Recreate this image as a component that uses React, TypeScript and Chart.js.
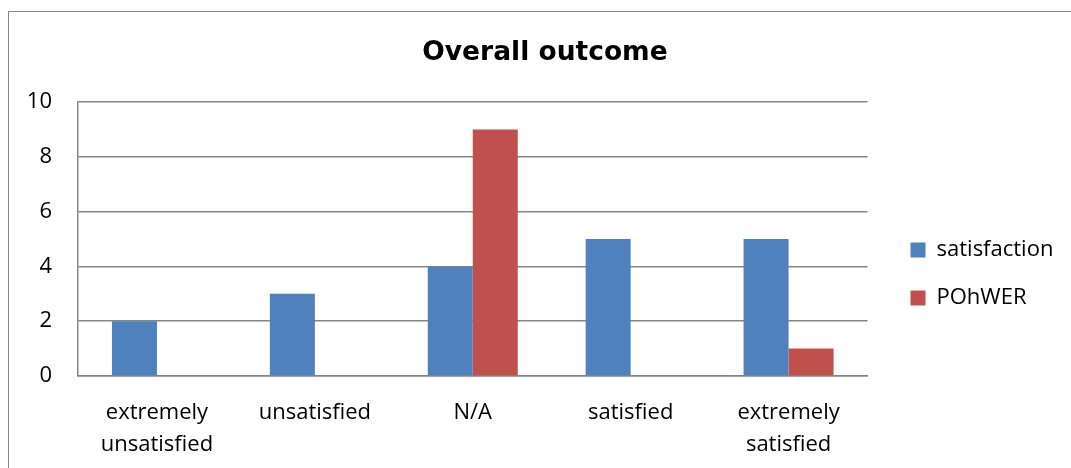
import React, { useEffect, useRef } from "react";
import { Chart, registerables } from "chart.js";

Chart.register(...registerables);

const categories: (string | string[])[] = [
  ["extremely", "unsatisfied"],
  "unsatisfied",
  "N/A",
  "satisfied",
  ["extremely", "satisfied"],
];
const satisfactionValues = [2, 3, 4, 5, 5];
const pohwerValues = [0, 0, 9, 0, 1];
const seriesNames = ["satisfaction", "POhWER"];
const yMin = 0;
const yMax = 10;
const yStep = 2;
const titleText = "Overall outcome";

const W = 1074;
const H = 532;
const FONT = "'Open Sans', 'Noto Sans', sans-serif";
const F = 22;
const LEG_PAD = 26;

export default function App() {
  const ref = useRef<HTMLCanvasElement | null>(null);
  useEffect(() => {
    if (!ref.current) return;
    const chart = new Chart(ref.current, {
      type: "bar",
      data: {
        labels: categories,
        datasets: [
          {
            label: seriesNames[0],
            data: satisfactionValues,
            backgroundColor: "#4F81BD",
            borderWidth: 0,
          },
          {
            label: seriesNames[1],
            data: pohwerValues,
            backgroundColor: "#C0504D",
            borderWidth: 0,
          },
        ],
      },
      options: {
        responsive: false,
        animation: false,
        devicePixelRatio: 1,
        layout: { padding: 0 },
        datasets: {
          bar: { barPercentage: 1, categoryPercentage: 0.57 },
        },
        plugins: {
          title: {
            display: true,
            text: titleText,
            color: "#000",
            font: { family: "'DejaVu Sans', sans-serif", size: 26.5, weight: "bold", lineHeight: 1.2 },
            padding: { top: 29.1, bottom: 33.1 },
          },
          legend: {
            display: true,
            position: "right",
            align: "center",
            maxWidth: 220,
            labels: {
              color: "#000",
              font: { family: FONT, size: F },
              boxWidth: 15,
              boxHeight: 15,
              padding: LEG_PAD,
            },
          },
          tooltip: { enabled: false },
        },
        scales: {
          x: {
            grid: { display: false },
            border: { display: true, color: "#868686", width: 1.5 },
            ticks: {
              color: "#000",
              font: { family: FONT, size: F, lineHeight: 1.45 },
              padding: 13,
              maxRotation: 0,
              autoSkip: false,
            },
            afterFit: (s: any) => {
              s.height = 164;
            },
          },
          y: {
            min: yMin,
            max: yMax,
            ticks: {
              stepSize: yStep,
              color: "#000",
              font: { family: FONT, size: F },
              padding: 26,
            },
            grid: { color: "#868686", lineWidth: 1.5, drawTicks: false },
            border: { display: true, color: "#868686", width: 1.5 },
            afterFit: (s: any) => {
              s.width = 70;
            },
          },
          gap: {
            type: "linear",
            position: "right",
            display: true,
            grid: { display: false },
            border: { display: false },
            ticks: { display: false },
            afterFit: (s: any) => {
              s.width = 43 - LEG_PAD;
            },
          },
          edge: {
            type: "linear",
            position: "right",
            weight: 2000,
            display: true,
            grid: { display: false },
            border: { display: false },
            ticks: { display: false },
            afterFit: (s: any) => {
              s.width = 18.6;
            },
          },
        },
      },
    } as any);
    return () => chart.destroy();
  }, []);

  return (
    <div
      style={{
        position: "fixed",
        left: 8,
        top: 8,
        width: 1063,
        height: 460,
        overflow: "hidden",
      }}
    >
      <div
        style={{
          position: "absolute",
          left: 0,
          top: 3,
          width: 1200,
          height: 700,
          borderLeft: "1px solid #868686",
          borderTop: "1px solid #868686",
        }}
      />
      <canvas
        ref={ref}
        width={W}
        height={H}
        style={{ position: "absolute", left: 0, top: 0, width: W, height: H }}
      />
    </div>
  );
}
